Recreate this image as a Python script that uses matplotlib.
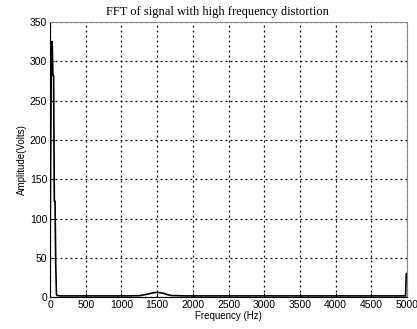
import numpy as np
import matplotlib.pyplot as plt

# frequency (Hz) and amplitude (Volts)
freq = [0, 10, 20, 30, 40, 50, 60, 70, 80, 90, 100, 150, 300, 500, 700, 900,
        1100, 1250, 1300, 1350, 1400, 1450, 1500, 1550, 1600, 1650, 1700,
        1900, 2200, 2600, 3000, 3400, 3800, 4200, 4600, 4900, 4980, 4990, 5000]
amp = [60, 200, 325, 325, 282, 282, 122, 122, 40, 3, 2, 1.5, 1.5, 1.5, 1.5, 1.5,
       1.5, 1.8, 2.5, 3.5, 4.5, 5.5, 6, 5.5, 4.5, 3, 2,
       1.5, 1.5, 1.5, 1.5, 1.5, 1.5, 1.5, 1.5, 1.5, 1.5, 30, 30]

xticks = np.arange(0, 5001, 500)
yticks = np.arange(0, 351, 50)

fig = plt.figure(figsize=(4.17, 3.29), dpi=100)
ax = fig.add_axes([0.12, 0.097, 0.856, 0.836])

ax.plot(freq, amp, color='black', linewidth=1.2)

ax.set_xlim(0, 5000)
ax.set_ylim(0, 350)
ax.set_xticks(xticks)
ax.set_yticks(yticks)
ax.grid(True, color='black', linestyle=(0, (1.5, 2.5)), linewidth=0.9)
ax.tick_params(direction='in', length=3, labelsize=7.5, pad=2)
for lab in ax.get_xticklabels() + ax.get_yticklabels():
    lab.set_family('Liberation Sans')

for side in ['top', 'right']:
    ax.spines[side].set_color('#888888')

ax.set_title('FFT of signal with high frequency distortion',
             family='Liberation Serif', fontsize=9, x=0.47, pad=5)
ax.set_xlabel('Frequency (Hz)', family='Liberation Sans', fontsize=7, labelpad=1)
ax.set_ylabel('Amplitude(Volts)', family='Liberation Sans', fontsize=7, labelpad=2)

fig.savefig('out.png', dpi=100)
